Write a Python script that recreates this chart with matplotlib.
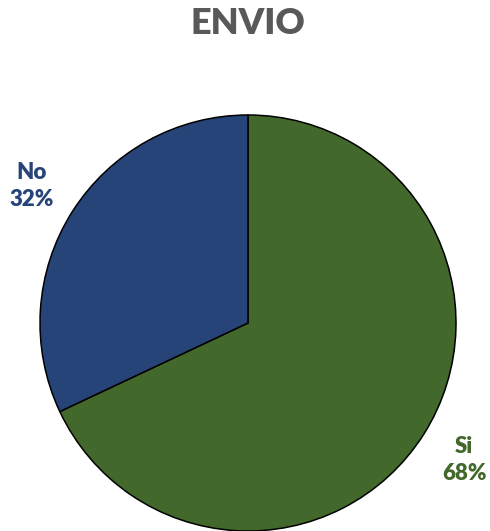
import matplotlib.pyplot as plt

categories = ['Si', 'No']
values = [68, 32]
colors = ['#43682B', '#264478']

fig = plt.figure(figsize=(4.9, 5.31), dpi=100)
ax = fig.add_axes([0, 0, 1, 1])

labels = [f'{c}\n{v}%' for c, v in zip(categories, values)]
wedges, texts = ax.pie(values, labels=labels, colors=colors, startangle=90,
                       counterclock=False, center=(248, 208), radius=208,
                       labeldistance=1.23, frame=True,
                       wedgeprops=dict(edgecolor='black', linewidth=1.1))
ax.axis('off')
ax.set_xlim(0, 490)
ax.set_ylim(0, 531)
ax.set_aspect('equal')
for t, c in zip(texts, colors):
    t.set_color(c)
    t.set_fontfamily('Lato')
    t.set_fontweight('heavy')
    t.set_fontsize(16)
    t.set_ha('center')
    t.set_va('center')
    t.set_linespacing(1.35)

fig.text(0.505, 0.955, 'ENVIO', ha='center', va='center', fontsize=26,
         fontweight='heavy', family='Lato', color='#595959')

fig.savefig('out.png', dpi=100)
